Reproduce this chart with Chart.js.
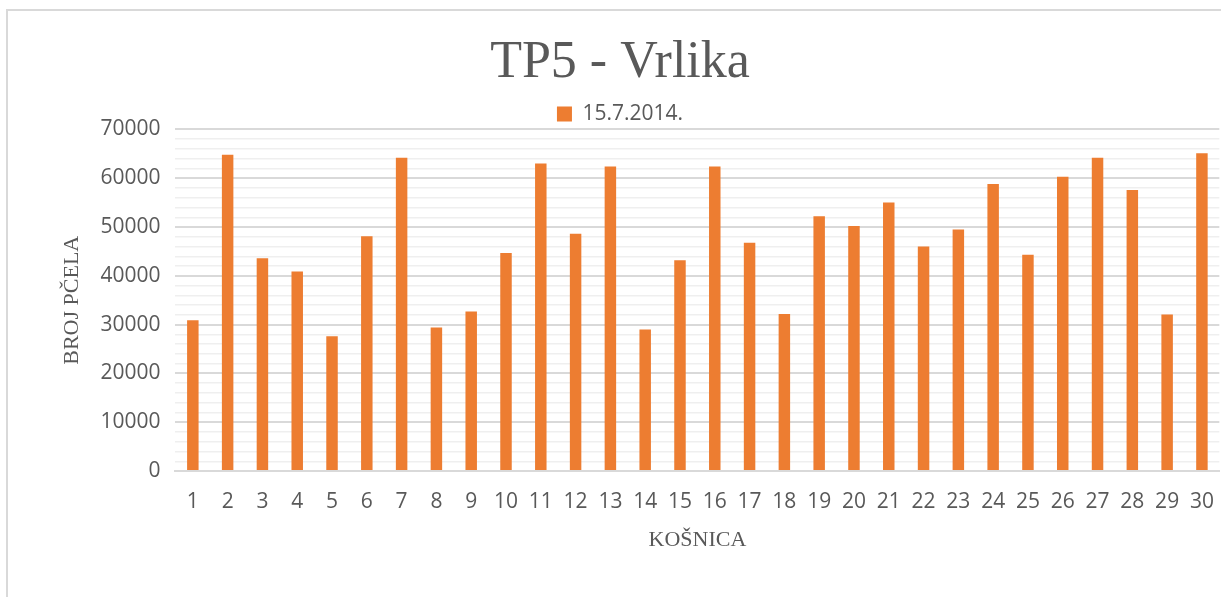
<!DOCTYPE html>
<html>
<head>
<meta charset="utf-8">
<script src="https://cdn.jsdelivr.net/npm/chart.js@4/dist/chart.umd.min.js"></script>
<style>
    html, body { margin: 0; padding: 0; background: #fff; overflow: hidden; }
    #frame {
        position: absolute; left: 6px; top: 9px; width: 1300px; height: 700px;
        border-top: 2px solid #d9d9d9; border-left: 2px solid #d9d9d9;
    }
    #wrap { position: absolute; left: 0; top: 0; width: 1229px; height: 597px; }
</style>
</head>
<body>
<div id="frame"></div>
<div id="wrap"><canvas id="chart"></canvas></div>
<script>
// TP5 - Vrlika: broj pčela po košnici, 15.7.2014.

const HIVES = Array.from({ length: 30 }, (_, i) => String(i + 1));
const SERIES_LABEL = '15.7.2014.';
const BEES = [
    30900, 64800, 43600, 40900, 27600, 48100, 64200, 29400, 32700, 44700,
    63000, 48600, 62400, 29000, 43200, 62400, 46800, 32200, 52200, 50200,
    55000, 46000, 49500, 58800, 44300, 60300, 64200, 57600, 32100, 65100,
];
const Y_MAX = 70000;
const Y_MAJOR = 10000;
const Y_MINOR = 2000;

const GREY = '#595959';
const SANS = "'Open Sans', 'Liberation Sans', sans-serif";
const SERIF = "'Liberation Serif', 'DejaVu Serif', serif";

new Chart(document.getElementById('chart'), {
    type: 'bar',
    data: {
        labels: HIVES,
        datasets: [
            {
                label: SERIES_LABEL,
                data: BEES,
                backgroundColor: '#ed7d31',
                borderWidth: 0,
                categoryPercentage: 1,
                barPercentage: 0.33,
            },
        ],
    },
    options: {
        responsive: true,
        maintainAspectRatio: false,
        animation: false,
        layout: { padding: { left: 15, right: 4, top: 10, bottom: 44 } },
        plugins: {
            title: {
                display: true,
                text: 'TP5 - Vrlika',
                color: GREY,
                font: { family: SERIF, size: 52, weight: 'normal' },
                padding: { top: 22, bottom: 0 },
            },
            legend: {
                display: true,
                maxHeight: 35,
                labels: {
                    color: GREY,
                    font: { family: SANS, size: 21 },
                    boxWidth: 15,
                    boxHeight: 15,
                    padding: 9,
                },
            },
            tooltip: { enabled: false },
        },
        scales: {
            x: {
                grid: { display: false, drawTicks: false },
                border: { display: true, color: '#d9d9d9', width: 2 },
                ticks: {
                    color: GREY,
                    font: { family: SANS, size: 21, lineHeight: 1.5 },
                    padding: 15,
                    maxRotation: 0,
                    autoSkip: false,
                },
                title: {
                    display: true,
                    text: 'KOŠNICA',
                    color: GREY,
                    font: { family: SERIF, size: 22 },
                    padding: { top: -6, bottom: 0 },
                },
            },
            y: {
                min: 0,
                max: Y_MAX,
                border: { display: false },
                grid: {
                    drawTicks: false,
                    color: (c) => (c.tick.value % Y_MAJOR === 0 ? '#d9d9d9' : '#efefef'),
                    lineWidth: (c) => (c.tick.value % Y_MAJOR === 0 ? 2 : 1.5),
                },
                ticks: {
                    stepSize: Y_MINOR,
                    autoSkip: false,
                    color: GREY,
                    font: { family: SANS, size: 21 },
                    padding: 15,
                    callback: (v) => (v % Y_MAJOR === 0 ? String(v) : ''),
                },
                title: {
                    display: true,
                    text: 'BROJ PČELA',
                    color: GREY,
                    font: { family: SERIF, size: 22 },
                    padding: { top: 44, bottom: 0 },
                },
            },
        },
    },
});
</script>
</body>
</html>
